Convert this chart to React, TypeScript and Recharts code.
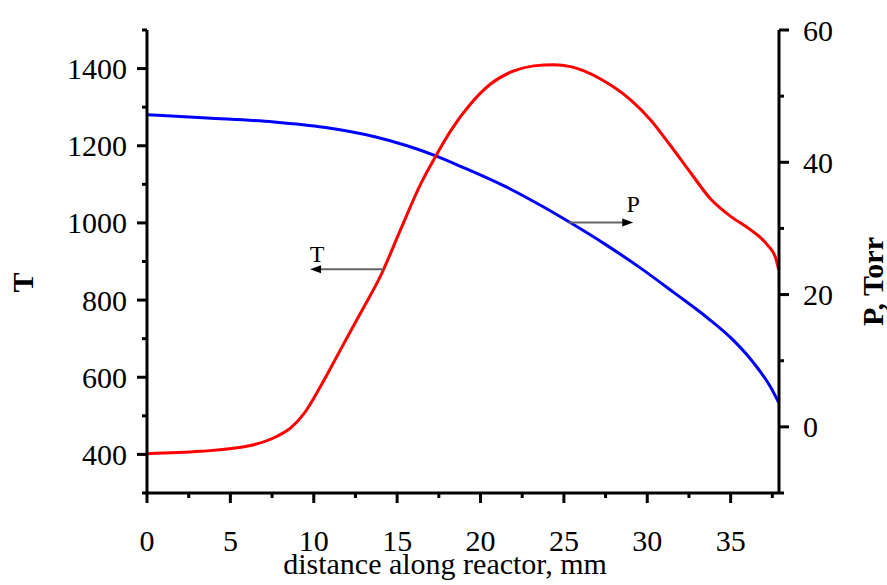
import React from "react";
import { LineChart, Line, XAxis, YAxis, ReferenceLine } from "recharts";

// temperature profile (left axis)
const distT = [0, 3.2, 6.2, 7.8, 8.6, 9.4, 10.4, 11.6, 12.8, 14.0, 15.2, 16.4, 17.3, 18.2, 19.4, 20.6, 22.0, 23.2, 24.4, 25.4, 26.2, 27.2, 29.0, 30.2, 31.4, 32.6, 33.8, 35.0, 36.2, 37.2, 37.7, 37.9];
const temp = [402, 408, 423, 447, 468, 505, 576, 671, 766, 862, 982, 1100, 1172, 1238, 1308, 1360, 1394, 1407, 1410, 1405, 1394, 1373, 1319, 1267, 1200, 1130, 1062, 1017, 982, 943, 909, 876];

// pressure profile (right axis)
const distP = [0, 3.6, 7.6, 10.6, 13.6, 15.6, 17.4, 18.8, 21.6, 23.6, 25.3, 27.6, 29.6, 31.6, 33.6, 35.2, 36.4, 37.4, 37.9];
const pres = [47.2, 46.7, 46.1, 45.3, 43.9, 42.5, 40.9, 39.4, 36.2, 33.5, 31.0, 27.4, 24.0, 20.3, 16.5, 13.0, 9.6, 6.0, 3.6];

const xTicks = [0, 2.5, 5, 7.5, 10, 12.5, 15, 17.5, 20, 22.5, 25, 27.5, 30, 32.5, 35, 37.5];
const tTicks = [300, 400, 500, 600, 700, 800, 900, 1000, 1100, 1200, 1300, 1400, 1500];
const pTicks = [-10, 0, 10, 20, 30, 40, 50, 60];

const tData = distT.map((x, i) => ({ x, t: temp[i] }));
const pData = distP.map((x, i) => ({ x, p: pres[i] }));

const FONT = "'Liberation Serif', 'Times New Roman', serif";

const LeftTick = (props: any) => {
  const { x, y, payload } = props;
  const major = payload.value % 200 === 0;
  return (
    <g>
      <line x1={x} x2={x - (major ? 10 : 5)} y1={y} y2={y} stroke="#000" strokeWidth={3} />
      {major && (
        <text x={x - 20} y={y} dy="0.35em" textAnchor="end" fontSize={30} fontFamily={FONT} fill="#000">
          {payload.value}
        </text>
      )}
    </g>
  );
};

const RightTick = (props: any) => {
  const { x, y, payload } = props;
  const major = payload.value % 20 === 0;
  return (
    <g>
      <line x1={x} x2={x + (major ? 10 : 5)} y1={y} y2={y} stroke="#000" strokeWidth={3} />
      {major && (
        <text x={x + 24} y={y} dy="0.35em" textAnchor="start" fontSize={30} fontFamily={FONT} fill="#000">
          {payload.value}
        </text>
      )}
    </g>
  );
};

const BottomTick = (props: any) => {
  const { x, y, payload } = props;
  const major = payload.value % 5 === 0;
  return (
    <g>
      <line x1={x} x2={x} y1={y} y2={y + (major ? 10 : 5)} stroke="#000" strokeWidth={3} />
      {major && (
        <text x={x} y={y + 58} textAnchor="middle" fontSize={30} fontFamily={FONT} fill="#000">
          {payload.value}
        </text>
      )}
    </g>
  );
};

const arrowShape = (label: string, dx: number, dy: number) => (props: any) => {
  const { x1, y1, x2, y2 } = props;
  const dir = x2 < x1 ? -1 : 1;
  return (
    <g>
      <line x1={x1} y1={y1} x2={x2 - dir * 8} y2={y2} stroke="#666" strokeWidth={2} />
      <polygon
        points={`${x2},${y2} ${x2 - dir * 11},${y2 - 4} ${x2 - dir * 11},${y2 + 4}`}
        fill="#000"
      />
      <text x={x2 + dx} y={y2 + dy} textAnchor="middle" fontSize={24} fontFamily={FONT} fill="#000">
        {label}
      </text>
    </g>
  );
};

export default function App() {
  return (
    <div style={{ position: "absolute", left: 0, top: 0, width: 887, height: 585, background: "#fff" }}>
      <LineChart width={887} height={585} margin={{ top: 30, right: 0, bottom: 0, left: 0 }}>
        <XAxis
          type="number"
          dataKey="x"
          domain={[0, 37.9]}
          ticks={xTicks}
          interval={0}
          height={92}
          tickSize={0}
          tickMargin={0}
          tickLine={false}
          axisLine={{ stroke: "#000", strokeWidth: 3 }}
          tick={BottomTick}
          allowDataOverflow
          label={{
            content: (p: any) => {
              const vb = p.viewBox;
              return (
                <text x={vb.x + vb.width / 2 - 18} y={vb.y + 81} textAnchor="middle" fontSize={30} fontFamily={FONT} fill="#000">
                  distance along reactor, mm
                </text>
              );
            },
          }}
        />
        <YAxis
          yAxisId="t"
          orientation="left"
          type="number"
          domain={[300, 1500]}
          ticks={tTicks}
          interval={0}
          width={147}
          tickSize={0}
          tickMargin={0}
          tickLine={false}
          axisLine={{ stroke: "#000", strokeWidth: 3 }}
          tick={LeftTick}
          allowDataOverflow
          label={{
            content: (p: any) => {
              const vb = p.viewBox;
              const cx = vb.x + 22;
              const cy = vb.y + vb.height / 2 + 21;
              return (
                <text x={cx} y={cy} transform={`rotate(-90 ${cx} ${cy})`} textAnchor="middle" dominantBaseline="central" fontSize={30} fontWeight="bold" fontFamily={FONT} fill="#000">
                  T
                </text>
              );
            },
          }}
        />
        <YAxis
          yAxisId="p"
          orientation="right"
          type="number"
          domain={[-10, 60]}
          ticks={pTicks}
          interval={0}
          width={108}
          tickSize={0}
          tickMargin={0}
          tickLine={false}
          axisLine={{ stroke: "#000", strokeWidth: 3 }}
          tick={RightTick}
          allowDataOverflow
          label={{
            content: (p: any) => {
              const vb = p.viewBox;
              const cx = vb.x + 93;
              const cy = vb.y + vb.height / 2 + 20;
              return (
                <text x={cx} y={cy} transform={`rotate(-90 ${cx} ${cy})`} textAnchor="middle" dominantBaseline="central" fontSize={30} fontWeight="bold" fontFamily={FONT} fill="#000">
                  P, Torr
                </text>
              );
            },
          }}
        />
        <Line
          yAxisId="p"
          data={pData}
          dataKey="p"
          type="monotone"
          stroke="#0000ff"
          strokeWidth={3}
          dot={false}
          activeDot={false}
          isAnimationActive={false}
        />
        <Line
          yAxisId="t"
          data={tData}
          dataKey="t"
          type="monotone"
          stroke="#ff0000"
          strokeWidth={3}
          dot={false}
          activeDot={false}
          isAnimationActive={false}
        />
        <ReferenceLine
          yAxisId="t"
          segment={[{ x: 14.18, y: 880 }, { x: 9.78, y: 880 }]}
          shape={arrowShape("T", 7, -7)}
        />
        <ReferenceLine
          yAxisId="t"
          segment={[{ x: 25.28, y: 1001 }, { x: 29.16, y: 1001 }]}
          shape={arrowShape("P", 0, -11)}
        />
      </LineChart>
    </div>
  );
}
